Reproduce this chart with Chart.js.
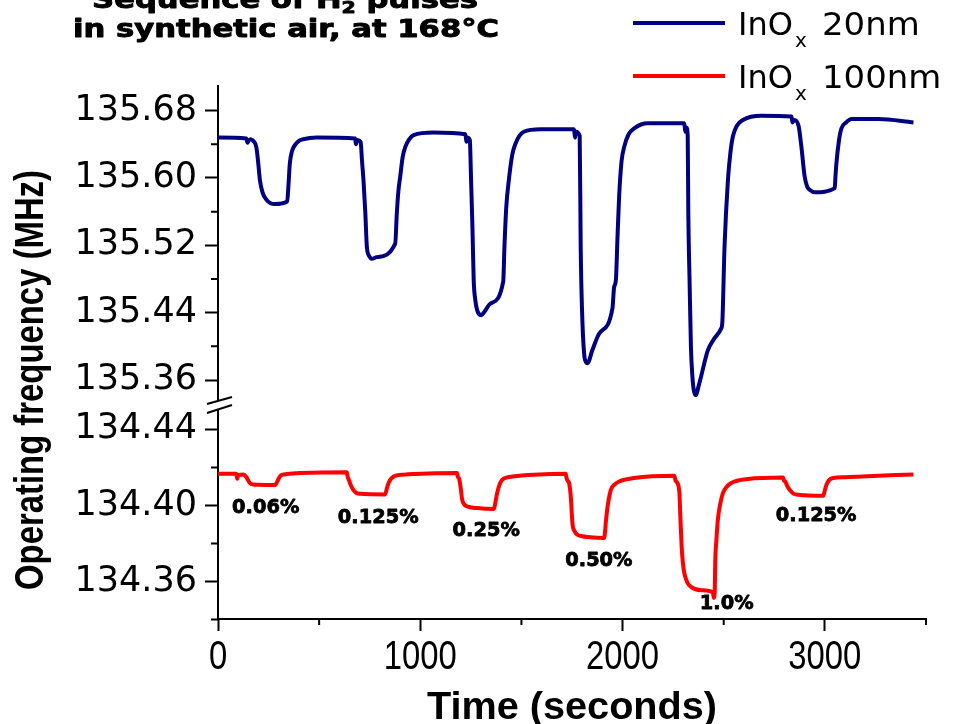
<!DOCTYPE html>
<html lang="en">
<head>
    <meta charset="UTF-8">
    <title>InOx response to H2 pulses</title>
    <script src="https://cdn.jsdelivr.net/npm/chart.js"></script>
    <style>
        body {
            margin: 0;
            padding: 0;
            background: #fff;
        }

        #chart-container {
            position: relative;
            width: 958px;
            height: 724px;
        }
    </style>
</head>
<body>
    <div id="chart-container">
        <canvas id="pulse-chart"></canvas>
    </div>

    <script>
        // InOx 20nm film (upper panel)
        const time20nm = [
            0, 140, 146, 150, 160, 175, 190, 200, 207, 220, 240, 260, 281, 342, 348, 355, 366, 380, 400, 421, 488, 678,
            682, 688, 705, 712, 719, 728, 736, 748, 760, 785, 876, 884, 892, 901, 913, 926, 945, 967, 1066, 1223,
            1228, 1232, 1245, 1251, 1258, 1264, 1272, 1281, 1301, 1320, 1347, 1410, 1416, 1425, 1438, 1455, 1471, 1490, 1512, 1595, 1760,
            1765, 1770, 1788, 1793, 1800, 1810, 1818, 1827, 1850, 1884, 1950, 1958, 1967, 1975, 1983, 1995, 2008, 2030, 2057, 2124, 2305,
            2310, 2316, 2322, 2325, 2331, 2338, 2345, 2352, 2363, 2375, 2388, 2421, 2450, 2487, 2493, 2504, 2521, 2533, 2545, 2565, 2595, 2686, 2835,
            2840, 2848, 2870, 2884, 2900, 2912, 2925, 2950, 3049, 3052, 3057, 3070, 3082, 3105, 3132, 3264, 3438
        ];
        const freq20nm = [
            135.648, 135.647, 135.642, 135.644, 135.646, 135.644, 135.636, 135.615, 135.598, 135.583, 135.574, 135.570, 135.569, 135.572, 135.590, 135.617, 135.632, 135.639, 135.644, 135.646, 135.648, 135.647,
            135.640, 135.645, 135.643, 135.620, 135.598, 135.560, 135.518, 135.507, 135.504, 135.506, 135.522, 135.558, 135.585, 135.602, 135.625, 135.637, 135.646, 135.651, 135.654, 135.652,
            135.643, 135.648, 135.645, 135.598, 135.540, 135.479, 135.455, 135.443, 135.437, 135.442, 135.451, 135.477, 135.518, 135.565, 135.598, 135.628, 135.641, 135.650, 135.655, 135.658, 135.658,
            135.648, 135.655, 135.650, 135.518, 135.440, 135.391, 135.382, 135.380, 135.395, 135.415, 135.445, 135.470, 135.479, 135.530, 135.578, 135.620, 135.637, 135.652, 135.659, 135.665, 135.665,
            135.655, 135.660, 135.650, 135.558, 135.480, 135.399, 135.365, 135.348, 135.342, 135.352, 135.364, 135.395, 135.408, 135.421, 135.428, 135.518, 135.598, 135.630, 135.649, 135.662, 135.669, 135.674, 135.673,
            135.666, 135.669, 135.662, 135.637, 135.602, 135.590, 135.586, 135.583, 135.588, 135.600, 135.617, 135.645, 135.659, 135.666, 135.670, 135.670, 135.666
        ];

        // InOx 100nm film (lower panel)
        const time100nm = [
            0, 90, 95, 100, 125, 140, 157, 175, 198, 281, 295, 306, 320, 339, 405, 637,
            641, 645, 655, 669, 685, 703, 826, 835, 843, 860, 876, 920, 967, 1182,
            1186, 1192, 1200, 1207, 1218, 1231, 1281, 1364, 1372, 1380, 1392, 1405, 1430, 1455, 1562, 1719,
            1722, 1728, 1735, 1744, 1752, 1764, 1777, 1800, 1826, 1909, 1918, 1926, 1942, 1960, 1983, 2057, 2256,
            2262, 2270, 2281, 2286, 2292, 2298, 2305, 2320, 2338, 2388, 2446, 2451, 2456, 2458, 2464, 2471, 2483, 2496, 2515, 2537, 2620, 2793,
            2798, 2805, 2815, 2826, 2845, 2868, 2992, 3000, 3008, 3020, 3041, 3100, 3181, 3438
        ];
        const freq100nm = [
            134.4166, 134.4166, 134.4140, 134.4160, 134.4162, 134.4150, 134.4118, 134.4110, 134.4109, 134.4107, 134.4130, 134.4152, 134.4162, 134.4165, 134.4170, 134.4175,
            134.4150, 134.4140, 134.4110, 134.4082, 134.4065, 134.4061, 134.4058, 134.4090, 134.4118, 134.4145, 134.4156, 134.4162, 134.4165, 134.4170,
            134.4150, 134.4140, 134.4090, 134.4030, 134.4005, 134.3995, 134.3986, 134.3981, 134.4020, 134.4065, 134.4110, 134.4135, 134.4148, 134.4152, 134.4161, 134.4166,
            134.4150, 134.4130, 134.4120, 134.4047, 134.3908, 134.3862, 134.3846, 134.3838, 134.3834, 134.3829, 134.3920, 134.3995, 134.4082, 134.4110, 134.4126, 134.4144, 134.4156,
            134.4130, 134.4120, 134.4065, 134.3930, 134.3785, 134.3700, 134.3645, 134.3595, 134.3572, 134.3554, 134.3543, 134.3514, 134.3560, 134.3698, 134.3820, 134.3925, 134.4010, 134.4065, 134.4098, 134.4118, 134.4139, 134.4147,
            134.4130, 134.4125, 134.4100, 134.4082, 134.4062, 134.4056, 134.4051, 134.4080, 134.4109, 134.4132, 134.4144, 134.4148, 134.4152, 134.4163
        ];

        // H2 concentration of each pulse, placed under the 100nm trace
        const pulseLabels = ['0.06%', '0.125%', '0.25%', '0.50%', '1.0%', '0.125%'];
        const pulseLabelTime = [236, 792, 1326, 1883, 2515, 2957];
        const pulseLabelFreq = [134.3988, 134.3936, 134.3867, 134.3705, 134.3479, 134.3946];

        // axis ticks
        const timeTicks = [0, 1000, 2000, 3000];
        const timeMinor = [500, 1500, 2500, 3500];
        const highTicks = [135.36, 135.44, 135.52, 135.60, 135.68];
        const highMinor = [135.40, 135.48, 135.56, 135.64];
        const lowTicks = [134.36, 134.40, 134.44];
        const lowMinor = [134.34, 134.38, 134.42];

        const seriesNames = ['InOx 20nm', 'InOx 100nm'];
        const seriesColors = ['#000080', '#ff0000'];

        // draw text squeezed or stretched horizontally to a given width
        function fitText(ctx, text, x, y, width, align) {
            const sx = width / ctx.measureText(text).width;
            scaledText(ctx, text, x, y, sx, align);
        }

        function scaledText(ctx, text, x, y, sx, align, heavy) {
            ctx.save();
            ctx.translate(x, y);
            ctx.scale(sx, 1);
            ctx.textAlign = align;
            ctx.fillText(text, 0, 0);
            if (heavy) {
                // thicken the strokes a little for a black-weight look
                ctx.lineWidth = heavy;
                ctx.lineJoin = 'round';
                ctx.strokeStyle = ctx.fillStyle;
                ctx.strokeText(text, 0, 0);
            }
            ctx.restore();
        }

        // minor ticks, axis break, titles, legend and pulse labels
        const decorations = {
            id: 'decorations',
            afterDraw(chart) {
                const ctx = chart.ctx;
                const x = chart.scales.x;
                const yHigh = chart.scales.yHigh;
                const yLow = chart.scales.yLow;
                const axisX = chart.chartArea.left;

                ctx.save();
                ctx.fillStyle = '#000';
                ctx.strokeStyle = '#000';
                ctx.lineWidth = 2;

                // minor ticks
                ctx.beginPath();
                timeMinor.forEach(v => {
                    const px = x.getPixelForValue(v);
                    ctx.moveTo(px, x.top);
                    ctx.lineTo(px, x.top + 6);
                });
                highMinor.forEach(v => {
                    const py = yHigh.getPixelForValue(v);
                    ctx.moveTo(axisX, py);
                    ctx.lineTo(axisX - 7, py);
                });
                lowMinor.forEach(v => {
                    const py = yLow.getPixelForValue(v);
                    ctx.moveTo(axisX, py);
                    ctx.lineTo(axisX - 7, py);
                });
                ctx.stroke();

                // axis break between the two panels
                const by = yHigh.bottom;
                ctx.fillStyle = '#fff';
                ctx.beginPath();
                ctx.moveTo(axisX - 11, by - 1);
                ctx.lineTo(axisX + 14, by - 8);
                ctx.lineTo(axisX + 14, by + 0);
                ctx.lineTo(axisX - 11, by + 8);
                ctx.closePath();
                ctx.fill();
                ctx.beginPath();
                ctx.moveTo(axisX - 11, by - 1);
                ctx.lineTo(axisX + 14, by - 8);
                ctx.moveTo(axisX - 11, by + 8);
                ctx.lineTo(axisX + 14, by + 0);
                ctx.stroke();

                ctx.fillStyle = '#000';
                ctx.textBaseline = 'alphabetic';

                // x tick labels
                ctx.font = '40px "Liberation Sans", Arial, sans-serif';
                timeTicks.forEach(v => {
                    scaledText(ctx, String(v), x.getPixelForValue(v), 669, 0.82, 'center');
                });

                // axis titles
                ctx.font = 'bold 39px "Liberation Sans", Arial, sans-serif';
                fitText(ctx, 'Time (seconds)', (chart.chartArea.left + chart.chartArea.right) / 2, 719, 290, 'center');

                ctx.save();
                ctx.translate(43, 380);
                ctx.rotate(-Math.PI / 2);
                ctx.font = 'bold 40px "Liberation Sans", Arial, sans-serif';
                fitText(ctx, 'Operating frequency (MHz)', 0, 0, 420, 'center');
                ctx.restore();

                // heading, top line is cut by the canvas edge
                ctx.font = 'bold 24px "DejaVu Sans", sans-serif';
                const line2 = 'in synthetic air, at 168°C';
                const sx = 426 / ctx.measureText(line2).width;
                scaledText(ctx, line2, 286, 37, sx, 'center', 0.9);

                const parts = [
                    { t: 'Sequence of H', f: 'bold 24px "DejaVu Sans", sans-serif', dy: 0 },
                    { t: '2', f: 'bold 16px "DejaVu Sans", sans-serif', dy: 5 },
                    { t: ' pulses', f: 'bold 24px "DejaVu Sans", sans-serif', dy: 0 }
                ];
                let total = 0;
                parts.forEach(p => { ctx.font = p.f; p.w = ctx.measureText(p.t).width; total += p.w; });
                let cx = 285 - total * sx / 2;
                parts.forEach(p => {
                    ctx.font = p.f;
                    scaledText(ctx, p.t, cx, 8 + p.dy, sx, 'left', 0.9);
                    cx += p.w * sx;
                });

                // legend
                const legendY = [23, 76];
                seriesNames.forEach((name, i) => {
                    const ly = legendY[i];
                    ctx.strokeStyle = seriesColors[i];
                    ctx.lineWidth = 4;
                    ctx.beginPath();
                    ctx.moveTo(633, ly);
                    ctx.lineTo(725, ly);
                    ctx.stroke();

                    ctx.fillStyle = '#000';
                    ctx.textAlign = 'left';
                    ctx.font = '32px "DejaVu Sans", sans-serif';
                    ctx.fillText('InO', 738, ly + 12);
                    const w = ctx.measureText('InO').width;
                    ctx.font = '20px "DejaVu Sans", sans-serif';
                    ctx.fillText('x', 738 + w + 2, ly + 24);
                    ctx.font = '32px "DejaVu Sans", sans-serif';
                    scaledText(ctx, name.split(' ')[1], 822, ly + 12, 1.06, 'left');
                });

                // concentration labels
                ctx.fillStyle = '#000';
                ctx.font = 'bold 19px "DejaVu Sans", sans-serif';
                ctx.textBaseline = 'middle';
                pulseLabels.forEach((label, i) => {
                    scaledText(ctx, label, x.getPixelForValue(pulseLabelTime[i]), yLow.getPixelForValue(pulseLabelFreq[i]), 1.02, 'center', 0.8);
                });

                ctx.restore();
            }
        };

        const axisGrid = {
            drawOnChartArea: false,
            tickLength: 13,
            tickWidth: 2,
            tickColor: '#000'
        };
        const axisBorder = { color: '#000', width: 2 };
        const yTickFont = { family: '"DejaVu Sans", sans-serif', size: 35 };

        const ctx = document.getElementById('pulse-chart').getContext('2d');
        const chart = new Chart(ctx, {
            type: 'line',
            data: {
                datasets: [
                    {
                        label: seriesNames[0],
                        data: time20nm.map((t, i) => ({ x: t, y: freq20nm[i] })),
                        xAxisID: 'x',
                        yAxisID: 'yHigh',
                        borderColor: seriesColors[0],
                        borderWidth: 4,
                        pointRadius: 0,
                        cubicInterpolationMode: 'monotone',
                        fill: false
                    },
                    {
                        label: seriesNames[1],
                        data: time100nm.map((t, i) => ({ x: t, y: freq100nm[i] })),
                        xAxisID: 'x',
                        yAxisID: 'yLow',
                        borderColor: seriesColors[1],
                        borderWidth: 4,
                        pointRadius: 0,
                        cubicInterpolationMode: 'monotone',
                        fill: false
                    }
                ]
            },
            options: {
                responsive: true,
                maintainAspectRatio: false,
                animation: false,
                layout: {
                    padding: { top: 86, right: 32, left: 0, bottom: 0 }
                },
                plugins: {
                    legend: { display: false },
                    tooltip: { enabled: false }
                },
                scales: {
                    x: {
                        type: 'linear',
                        position: 'bottom',
                        min: 0,
                        max: 3500,
                        afterBuildTicks: s => { s.ticks = timeTicks.map(v => ({ value: v })); },
                        afterFit: s => { s.height = 105; },
                        border: axisBorder,
                        grid: { ...axisGrid, tickLength: 12 },
                        ticks: { display: false }
                    },
                    // lower panel first so the upper panel is stacked on top
                    yLow: {
                        type: 'linear',
                        position: 'left',
                        stack: 'freq',
                        stackWeight: 214,
                        min: 134.3403,
                        max: 134.4528,
                        afterBuildTicks: s => { s.ticks = lowTicks.map(v => ({ value: v })); },
                        afterFit: s => { s.width = 218; },
                        border: axisBorder,
                        grid: axisGrid,
                        ticks: {
                            color: '#000',
                            font: yTickFont,
                            padding: 8,
                            callback: v => v.toFixed(2)
                        }
                    },
                    yHigh: {
                        type: 'linear',
                        position: 'left',
                        stack: 'freq',
                        stackWeight: 319,
                        min: 135.3303,
                        max: 135.7093,
                        afterBuildTicks: s => { s.ticks = highTicks.map(v => ({ value: v })); },
                        afterFit: s => { s.width = 218; },
                        border: axisBorder,
                        grid: axisGrid,
                        ticks: {
                            color: '#000',
                            font: yTickFont,
                            padding: 8,
                            callback: v => v.toFixed(2)
                        }
                    }
                }
            },
            plugins: [decorations]
        });
    </script>
</body>
</html>
